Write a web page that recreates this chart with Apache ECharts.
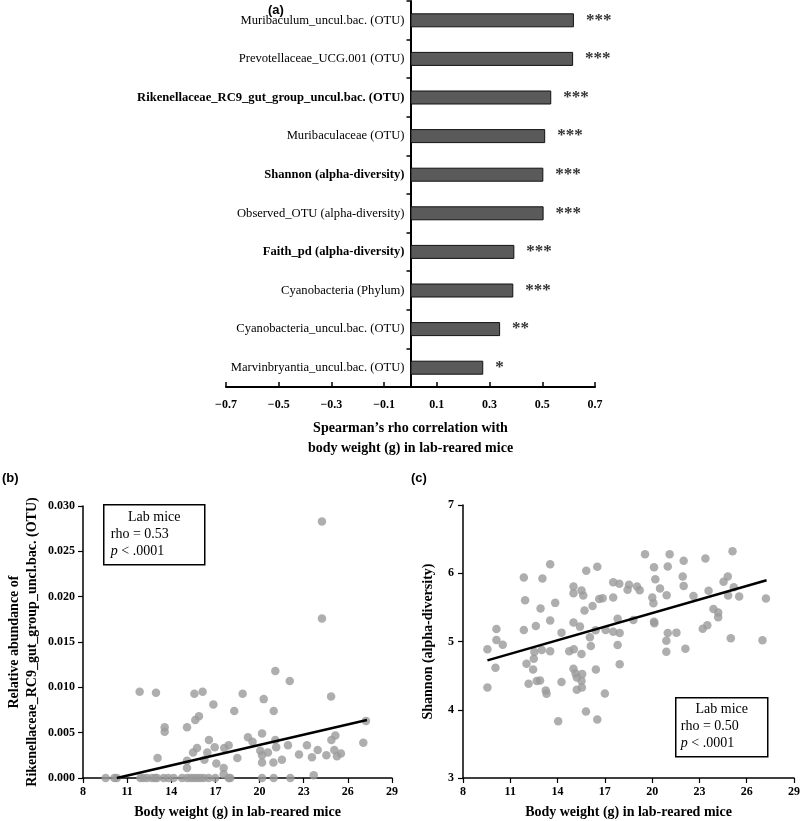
<!DOCTYPE html>
<html><head><meta charset="utf-8">
<script src="https://cdn.jsdelivr.net/npm/echarts@6/dist/echarts.min.js"></script>
<style>html,body{margin:0;padding:0;background:#fff}#chart{width:800px;height:821px}</style>
</head><body><div id="chart"></div>
<script>
// ---------- Panel (a) ----------
const categories = [
  'Muribaculum_uncul.bac. (OTU)',
  'Prevotellaceae_UCG.001 (OTU)',
  'Rikenellaceae_RC9_gut_group_uncul.bac. (OTU)',
  'Muribaculaceae (OTU)',
  'Shannon (alpha-diversity)',
  'Observed_OTU (alpha-diversity)',
  'Faith_pd (alpha-diversity)',
  'Cyanobacteria (Phylum)',
  'Cyanobacteria_uncul.bac. (OTU)',
  'Marvinbryantia_uncul.bac. (OTU)'
];
const boldCategories = [
  'Rikenellaceae_RC9_gut_group_uncul.bac. (OTU)',
  'Shannon (alpha-diversity)',
  'Faith_pd (alpha-diversity)'
];
const rhoValues = [0.62, 0.617, 0.534, 0.511, 0.504, 0.505, 0.394, 0.39, 0.34, 0.276];
const stars = ['***','***','***','***','***','***','***','***','**','*'];
const rhoTicks = [-0.7, -0.5, -0.3, -0.1, 0.1, 0.3, 0.5, 0.7];

// ---------- Panel (b) ----------
const bWeight = [24.24,24.24,21.07,22.05,11.85,12.96,15.57,16.13,18.85,24.86,16.86,20.28,18.28,20.96,15.88,15.63,27.23,13.55,13.55,15.07,
  25.15,20.17,19.21,19.52,16.56,21.07,24.88,27.05,17.9,21.93,23.22,15.75,16.95,17.6,20.05,20.57,21.13,22.68,24.54,25.08,
  25.53,25.26,23.56,23.95,15.48,16.45,13.07,16.25,18.49,20.17,20.17,20.94,21.52,17.06,15.07,15.07,17.56,17.56,23.68,
  9.54,10.13,10.3,11.9,12.1,12.35,12.69,12.9,13.03,13.48,13.8,14.16,14.73,15.07,15.3,15.52,15.75,15.97,16.2,16.54,16.99,17.9,18.01,20.17,20.96,22.09];
const bAbund = [0.0283,0.0176,0.0118,0.0107,0.0095,0.0094,0.0093,0.0095,0.0093,0.0090,0.0081,0.0087,0.0074,0.0074,0.0068,0.0064,0.0063,0.0056,0.0051,0.0056,
  0.0047,0.0049,0.0045,0.0040,0.0042,0.0042,0.0042,0.0039,0.0036,0.0036,0.0036,0.0033,0.0034,0.0033,0.0030,0.0028,0.0034,0.0026,0.0025,0.0031,
  0.0027,0.0024,0.0023,0.0031,0.0028,0.0028,0.0022,0.0020,0.0022,0.0025,0.0017,0.0017,0.0020,0.0016,0.0019,0.0011,0.0011,0.0004,0.0003,
  0,0,0,0,0,0,0,0,0,0,0,0,0,0,0,0,0,0,0,0,0,0,0,0,0,0];
const bTrendX = [10.3, 27.3];
const bTrendY = [0.0, 0.0064];
const weightTicks = [8, 11, 14, 17, 20, 23, 26, 29];

// ---------- Panel (c) ----------
const cWeight = [9.55,9.55,10.12,10.12,10.52,10.06,11.86,11.94,11.86,12.03,12.16,12.45,12.49,12.53,12.62,12.68,12.89,12.92,13.04,13.0,
  13.25,13.3,13.53,13.53,13.53,13.85,14.04,14.25,14.25,14.74,15.01,15.01,15.01,15.03,15.01,15.14,15.22,15.22,15.42,15.52,
  15.52,15.56,15.52,15.54,15.63,15.71,15.82,15.8,16.05,16.11,16.22,16.41,16.43,16.52,16.52,16.64,16.86,17.0,17.05,17.53,
  17.53,17.53,17.81,17.81,17.92,17.94,17.94,18.44,18.53,18.81,19.04,19.21,19.55,20.01,20.08,20.12,20.12,20.14,20.2,20.5,
  20.92,20.99,20.9,20.9,20.99,21.11,21.54,21.94,22.0,22.0,22.11,22.62,23.21,23.38,23.5,23.58,23.89,24.19,24.19,24.53,
  24.8,24.82,24.99,25.1,25.18,25.52,27.0,27.22];
const cShannon = [4.885,4.327,5.184,5.022,4.954,4.616,5.938,5.605,5.169,4.674,4.381,4.591,4.748,4.846,5.228,4.42,4.43,5.482,5.923,4.875,
  4.283,4.234,6.133,5.306,4.856,5.566,3.832,5.13,4.405,4.856,5.805,5.707,5.277,4.885,4.601,4.532,4.474,4.293,5.218,5.747,
  4.816,4.522,4.42,4.327,5.673,5.453,6.035,3.974,5.061,4.934,5.521,5.164,4.591,6.094,3.857,5.624,5.634,4.239,5.169,5.869,
  5.644,5.144,5.335,4.949,5.845,4.665,5.125,5.757,5.83,5.316,5.805,5.752,6.28,5.644,5.561,6.089,5.291,5.267,5.913,5.776,
  5.678,6.099,5.012,4.851,5.125,6.28,5.13,5.952,6.182,5.815,4.895,5.668,5.188,6.217,5.237,5.742,5.477,5.424,5.355,5.874,
  5.952,5.673,5.047,6.324,5.796,5.658,5.017,5.629];
const cTrendX = [9.55, 27.26];
const cTrendY = [4.723, 5.898];

// ---------- build ----------
const SERIF = 'Liberation Serif, Times New Roman, serif';
const zip = (a, b) => a.map((v, i) => [v, b[i]]);
const blackLine = { lineStyle: { color: '#000', width: 1.5 } };
const tickLab = { fontFamily: SERIF, fontWeight: 'bold', fontSize: 12, color: '#000' };
const nameStyle = { fontFamily: SERIF, fontWeight: 'bold', fontSize: 14, color: '#000' };
const GA = { left: 226, top: 1, width: 369, height: 386 };
const zeroOffset = GA.width * 0.7 / 1.4; // distance from grid left to value 0

const chart = echarts.init(document.getElementById('chart'), null, { renderer: 'canvas' });
chart.setOption({
  animation: false,
  backgroundColor: '#fff',
  grid: [
    { ...GA, outerBoundsMode: 'none', containLabel: false },
    { left: 83, top: 506, width: 309, height: 272, outerBoundsMode: 'none', containLabel: false },
    { left: 463, top: 505, width: 331, height: 273, outerBoundsMode: 'none', containLabel: false }
  ],
  xAxis: [
    { gridIndex: 0, type: 'value', min: -0.7, max: 0.7,
      axisLine: { show: true, onZero: false, lineStyle: { color: '#000', width: 2 } },
      axisTick: { show: true, inside: true, length: 5, customValues: rhoTicks, lineStyle: { color: '#000', width: 1.5 } },
      axisLabel: { customValues: rhoTicks, margin: 12, ...tickLab,
        formatter: v => (v < 0 ? '\u2212' : '') + Math.abs(v).toFixed(1) },
      splitLine: { show: false },
      name: 'Spearman\u2019s rho correlation with\nbody weight (g) in lab-reared mice',
      nameLocation: 'middle', nameGap: 31,
      nameTextStyle: { ...nameStyle, lineHeight: 20 } },
    { gridIndex: 1, type: 'value', min: 8, max: 29,
      axisLine: { show: true, onZero: false, ...blackLine },
      axisTick: { show: true, length: 5, customValues: weightTicks, lineStyle: { color: '#000', width: 1.2 } },
      axisLabel: { customValues: weightTicks, margin: 8, ...tickLab },
      splitLine: { show: false },
      name: 'Body weight (g) in lab-reared mice', nameLocation: 'middle', nameGap: 27,
      nameTextStyle: { ...nameStyle } },
    { gridIndex: 2, type: 'value', min: 8, max: 29,
      axisLine: { show: true, onZero: false, ...blackLine },
      axisTick: { show: true, length: 5, customValues: weightTicks, lineStyle: { color: '#000', width: 1.2 } },
      axisLabel: { customValues: weightTicks, margin: 8, ...tickLab },
      splitLine: { show: false },
      name: 'Body weight (g) in lab-reared mice', nameLocation: 'middle', nameGap: 27,
      nameTextStyle: { ...nameStyle } }
  ],
  yAxis: [
    { gridIndex: 0, type: 'category', data: categories, inverse: true, offset: -zeroOffset,
      axisLine: { show: true, onZero: false, lineStyle: { color: '#000', width: 2 } },
      axisTick: { show: true, length: 4, lineStyle: { color: '#000', width: 1.5 } },
      axisLabel: { margin: 6, fontFamily: SERIF, fontSize: 12.6, color: '#000',
        formatter: v => boldCategories.includes(v) ? '{b|' + v + '}' : '{n|' + v + '}',
        rich: { b: { fontFamily: SERIF, fontSize: 12.6, fontWeight: 'bold', color: '#000' },
                n: { fontFamily: SERIF, fontSize: 12.6, color: '#000' } } } },
    { gridIndex: 1, type: 'value', min: 0, max: 0.03, interval: 0.005,
      axisLine: { show: true, onZero: false, ...blackLine },
      axisTick: { show: true, length: 5, lineStyle: { color: '#000', width: 1.2 } },
      axisLabel: { margin: 8, ...tickLab, formatter: v => v.toFixed(3) },
      splitLine: { show: false },
      name: 'Relative abundance of\nRikenellaceae_RC9_gut_group_uncl.bac. (OTU)',
      nameLocation: 'middle', nameGap: 42,
      nameTextStyle: { ...nameStyle, lineHeight: 18 } },
    { gridIndex: 2, type: 'value', min: 3, max: 7, interval: 1,
      axisLine: { show: true, onZero: false, ...blackLine },
      axisTick: { show: true, length: 5, lineStyle: { color: '#000', width: 1.2 } },
      axisLabel: { margin: 9, ...tickLab },
      splitLine: { show: false },
      name: 'Shannon (alpha-diversity)', nameLocation: 'middle', nameGap: 28,
      nameTextStyle: { ...nameStyle } }
  ],
  series: [
    { type: 'bar', xAxisIndex: 0, yAxisIndex: 0, data: rhoValues, barWidth: 14,
      itemStyle: { color: '#5a5a5a', borderColor: '#111', borderWidth: 1 },
      label: { show: true, position: 'right', distance: 12, formatter: p => stars[p.dataIndex],
        fontFamily: SERIF, fontSize: 17, color: '#333', fontWeight: 'bold' } },
    { type: 'scatter', xAxisIndex: 1, yAxisIndex: 1, data: zip(bWeight, bAbund), symbolSize: 8.5,
      itemStyle: { color: '#9a9a9a', opacity: 0.8 }, z: 2 },
    { type: 'line', xAxisIndex: 1, yAxisIndex: 1, data: zip(bTrendX, bTrendY), showSymbol: false,
      lineStyle: { color: '#000', width: 2.5 }, z: 3, silent: true },
    { type: 'scatter', xAxisIndex: 2, yAxisIndex: 2, data: zip(cWeight, cShannon), symbolSize: 8.5,
      itemStyle: { color: '#9a9a9a', opacity: 0.8 }, z: 2 },
    { type: 'line', xAxisIndex: 2, yAxisIndex: 2, data: zip(cTrendX, cTrendY), showSymbol: false,
      lineStyle: { color: '#000', width: 2.5 }, z: 3, silent: true }
  ],
  graphic: [
    { type: 'text', left: 268, top: 4, style: { text: '(a)', font: 'bold 13px Liberation Sans, Arial, sans-serif', fill: '#000' } },
    { type: 'text', left: 2, top: 472, style: { text: '(b)', font: 'bold 13px Liberation Sans, Arial, sans-serif', fill: '#000' } },
    { type: 'text', left: 411, top: 472, style: { text: '(c)', font: 'bold 13px Liberation Sans, Arial, sans-serif', fill: '#000' } },
    { type: 'group', left: 103, top: 504, children: [
      { type: 'rect', shape: { x: 0, y: 0, width: 101, height: 60 }, style: { fill: '#fff', stroke: '#000', lineWidth: 1.5 } },
      { type: 'text', x: 50.5, y: 6, style: { text: 'Lab mice', font: '14px Liberation Serif', fill: '#000', textAlign: 'center' } },
      { type: 'text', x: 7, y: 23, style: { text: 'rho = 0.53', font: '14px Liberation Serif', fill: '#000' } },
      { type: 'text', x: 7, y: 40, style: { text: '{i|p} < .0001', font: '14px Liberation Serif', fill: '#000',
        rich: { i: { fontStyle: 'italic', fontFamily: 'Liberation Serif', fontSize: 14 } } } }
    ] },
    { type: 'group', left: 675, top: 697, children: [
      { type: 'rect', shape: { x: 0, y: 0, width: 92, height: 59 }, style: { fill: '#fff', stroke: '#000', lineWidth: 1.5 } },
      { type: 'text', x: 46, y: 5, style: { text: 'Lab mice', font: '14px Liberation Serif', fill: '#000', textAlign: 'center' } },
      { type: 'text', x: 5, y: 22, style: { text: 'rho = 0.50', font: '14px Liberation Serif', fill: '#000' } },
      { type: 'text', x: 5, y: 39, style: { text: '{i|p} < .0001', font: '14px Liberation Serif', fill: '#000',
        rich: { i: { fontStyle: 'italic', fontFamily: 'Liberation Serif', fontSize: 14 } } } }
    ] }
  ]
});
</script>
</body></html>
